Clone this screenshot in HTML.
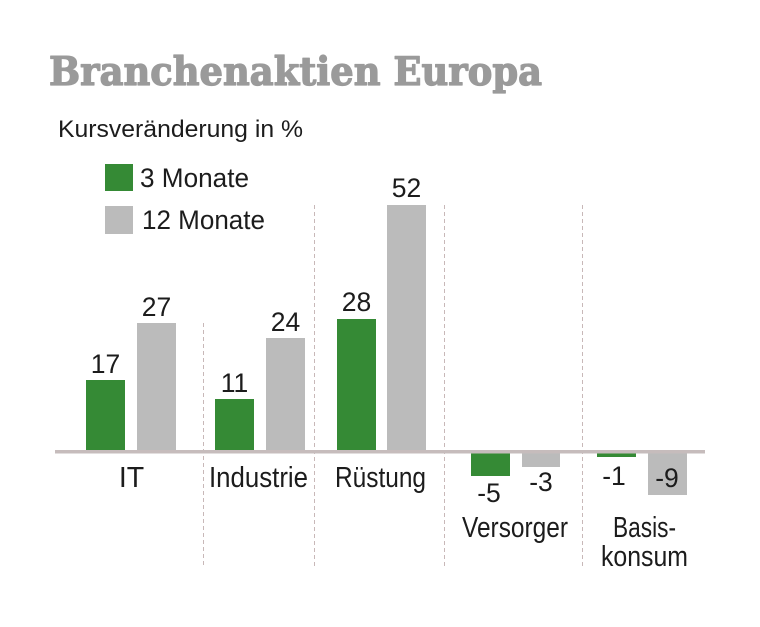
<!DOCTYPE html>
<html><head><meta charset="utf-8"><style>
html,body{margin:0;padding:0;background:#fff;}
svg{display:block;}
text{font-family:"Liberation Sans",sans-serif;fill:#1c1c1c;}
</style></head><body>
<svg width="760" height="627" viewBox="0 0 760 627" xmlns="http://www.w3.org/2000/svg">
<rect width="760" height="627" fill="#fff"/>
<text x="49" y="85" font-weight="bold" font-size="39" style="font-family:'DejaVu Serif','Liberation Serif',serif;fill:#9a9a9a;stroke:#9a9a9a;stroke-width:1.3;stroke-linejoin:round" textLength="493" lengthAdjust="spacingAndGlyphs">Branchenaktien Europa</text>
<text x="58" y="137" font-size="24.5" textLength="245" lengthAdjust="spacingAndGlyphs">Kursveränderung in %</text>
<rect x="105" y="164" width="28" height="27" fill="#358a35"/>
<rect x="105" y="206" width="28" height="28" fill="#bbbbbb"/>
<text x="140" y="187" font-size="26.5" textLength="109" lengthAdjust="spacingAndGlyphs">3 Monate</text>
<text x="142" y="229" font-size="26.5" textLength="123" lengthAdjust="spacingAndGlyphs">12 Monate</text>
<g stroke="#c8b8b8" stroke-width="1" stroke-dasharray="4,3">
<line x1="203.5" y1="323" x2="203.5" y2="567"/>
<line x1="314.5" y1="205" x2="314.5" y2="567"/>
<line x1="444.5" y1="205" x2="444.5" y2="567"/>
<line x1="582.5" y1="205" x2="582.5" y2="567"/>
</g>
<g fill="#358a35">
<rect x="86" y="380" width="39" height="70"/>
<rect x="215" y="399" width="39" height="51"/>
<rect x="337" y="319" width="39" height="131"/>
<rect x="471" y="452" width="39" height="24"/>
<rect x="597" y="452" width="39" height="5"/>
</g>
<g fill="#bbbbbb">
<rect x="137" y="323" width="39" height="127"/>
<rect x="266" y="338" width="39" height="112"/>
<rect x="387" y="205" width="39" height="245"/>
<rect x="522" y="452" width="38" height="15"/>
<rect x="648" y="452" width="39" height="43"/>
</g>
<rect x="55" y="450" width="650" height="3.5" fill="#c6bcbc"/>
<g font-size="26.5" text-anchor="middle">
<text x="105.5" y="373">17</text>
<text x="156.5" y="316">27</text>
<text x="234.5" y="392">11</text>
<text x="285.5" y="331">24</text>
<text x="356.5" y="311">28</text>
<text x="406.5" y="197">52</text>
<text x="489" y="502">-5</text>
<text x="541" y="491">-3</text>
<text x="614" y="485">-1</text>
<text x="667" y="487">-9</text>
</g>
<g font-size="28.5" text-anchor="middle">
<text x="131.5" y="487">IT</text>
<text x="258.5" y="487" textLength="99" lengthAdjust="spacingAndGlyphs">Industrie</text>
<text x="380.5" y="487" textLength="91" lengthAdjust="spacingAndGlyphs">Rüstung</text>
<text x="515" y="537" textLength="106" lengthAdjust="spacingAndGlyphs">Versorger</text>
<text x="644.5" y="537" textLength="63" lengthAdjust="spacingAndGlyphs">Basis-</text>
<text x="644.5" y="566" textLength="87" lengthAdjust="spacingAndGlyphs">konsum</text>
</g>
</svg>
</body></html>
